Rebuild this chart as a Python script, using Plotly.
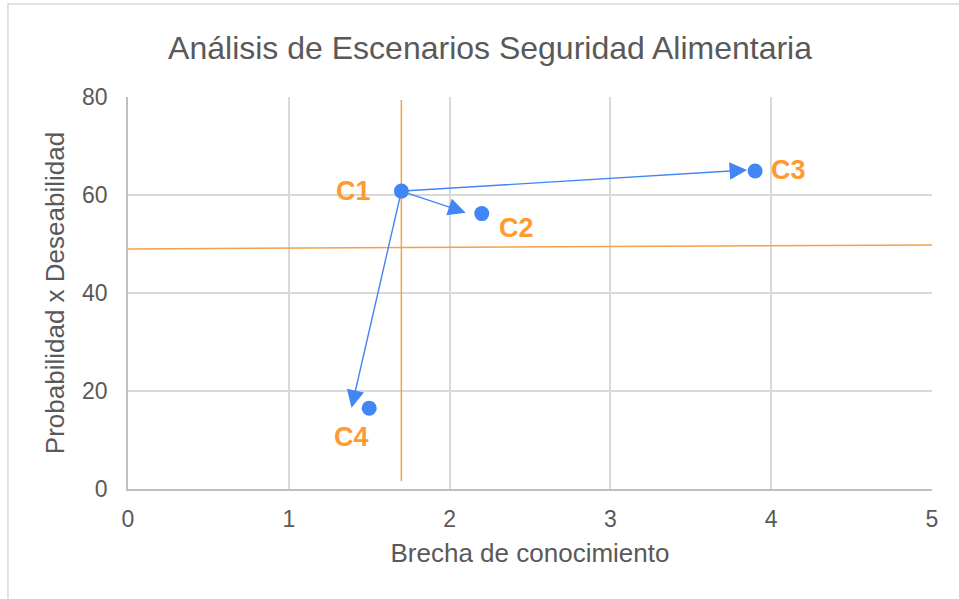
import plotly.graph_objects as go

# Scenario positions: knowledge gap vs probability x desirability
scenarios = ["C1", "C2", "C3", "C4"]
brecha = [1.7, 2.2, 3.9, 1.5]
prob_deseab = [60.8, 56.2, 64.9, 16.5]

# Arrow tips for the transitions drawn from C1 to the other scenarios
arrow_tip_x = [2.1, 3.85, 1.39]
arrow_tip_y = [56.4, 65.1, 16.6]

# Reference (threshold) lines
vline_x = [1.7, 1.7]
vline_y = [1.6, 79.4]
hline_x = [0, 5]
hline_y = [49.0, 49.8]

x_ticks = [0, 1, 2, 3, 4, 5]
y_ticks = [0, 20, 40, 60, 80]

BLUE = "#4285F4"
ORANGE_LINE = "#F5A04C"
ORANGE_TEXT = "#FF9A33"
GREY_TEXT = "#595959"
FONT = "Liberation Sans, Arial, sans-serif"

fig = go.Figure()

fig.add_trace(go.Scatter(x=vline_x, y=vline_y, mode="lines",
                         line=dict(color=ORANGE_LINE, width=1.5),
                         hoverinfo="skip", showlegend=False))
fig.add_trace(go.Scatter(x=hline_x, y=hline_y, mode="lines",
                         line=dict(color=ORANGE_LINE, width=1.5),
                         hoverinfo="skip", showlegend=False))

fig.add_trace(go.Scatter(x=brecha, y=prob_deseab, mode="markers",
                         marker=dict(color=BLUE, size=15),
                         showlegend=False))

# Arrows from C1 toward C2, C3, C4
for tx, ty in zip(arrow_tip_x, arrow_tip_y):
    fig.add_annotation(x=tx, y=ty, ax=brecha[0], ay=prob_deseab[0],
                       xref="x", yref="y", axref="x", ayref="y",
                       text="", showarrow=True, arrowhead=2,
                       arrowsize=2.5, arrowwidth=1.4, arrowcolor=BLUE)

# Scenario labels
label_offsets = [(-48, 0), (35, -14), (33, 1), (-18, -29)]
for name, x, y, (dx, dy) in zip(scenarios, brecha, prob_deseab, label_offsets):
    fig.add_annotation(x=x, y=y, xref="x", yref="y", text=f"<b>{name}</b>",
                       showarrow=False, xshift=dx, yshift=dy,
                       font=dict(family=FONT, size=27, color=ORANGE_TEXT))

# Outer chart frame
fig.add_shape(type="rect", xref="paper", yref="paper",
              x0=-0.1493, x1=1.2, y0=-0.4, y1=1.237,
              line=dict(color="#D9D9D9", width=1.5), layer="below")

fig.update_layout(
    width=959, height=599,
    margin=dict(l=128, r=27, t=97, b=110),
    paper_bgcolor="white", plot_bgcolor="white",
    title=dict(text="Análisis de Escenarios Seguridad Alimentaria",
               x=0.511, xref="container", xanchor="center",
               y=0.921, yanchor="middle",
               font=dict(family=FONT, size=32, color=GREY_TEXT)),
    font=dict(family=FONT, color=GREY_TEXT),
    xaxis=dict(range=[0, 5], tickvals=x_ticks, showgrid=True,
               gridcolor="#D9D9D9", gridwidth=1.5, zeroline=False,
               showline=True, linecolor="#BFBFBF", linewidth=1.5,
               ticks="outside", ticklen=9, tickcolor="rgba(0,0,0,0)",
               tickfont=dict(size=23, color=GREY_TEXT),
               title=dict(text="Brecha de conocimiento", standoff=12,
                          font=dict(size=26, color=GREY_TEXT))),
    yaxis=dict(range=[0, 80], tickvals=y_ticks, showgrid=True,
               gridcolor="#D9D9D9", gridwidth=1.5, zeroline=False,
               showline=True, linecolor="#BFBFBF", linewidth=1.5,
               ticks="outside", ticklen=14, tickcolor="rgba(0,0,0,0)",
               tickfont=dict(size=23, color=GREY_TEXT),
               title=dict(text="Probabilidad x Deseabilidad", standoff=10,
                          font=dict(size=26, color=GREY_TEXT))),
)

fig.write_html("out.html")
